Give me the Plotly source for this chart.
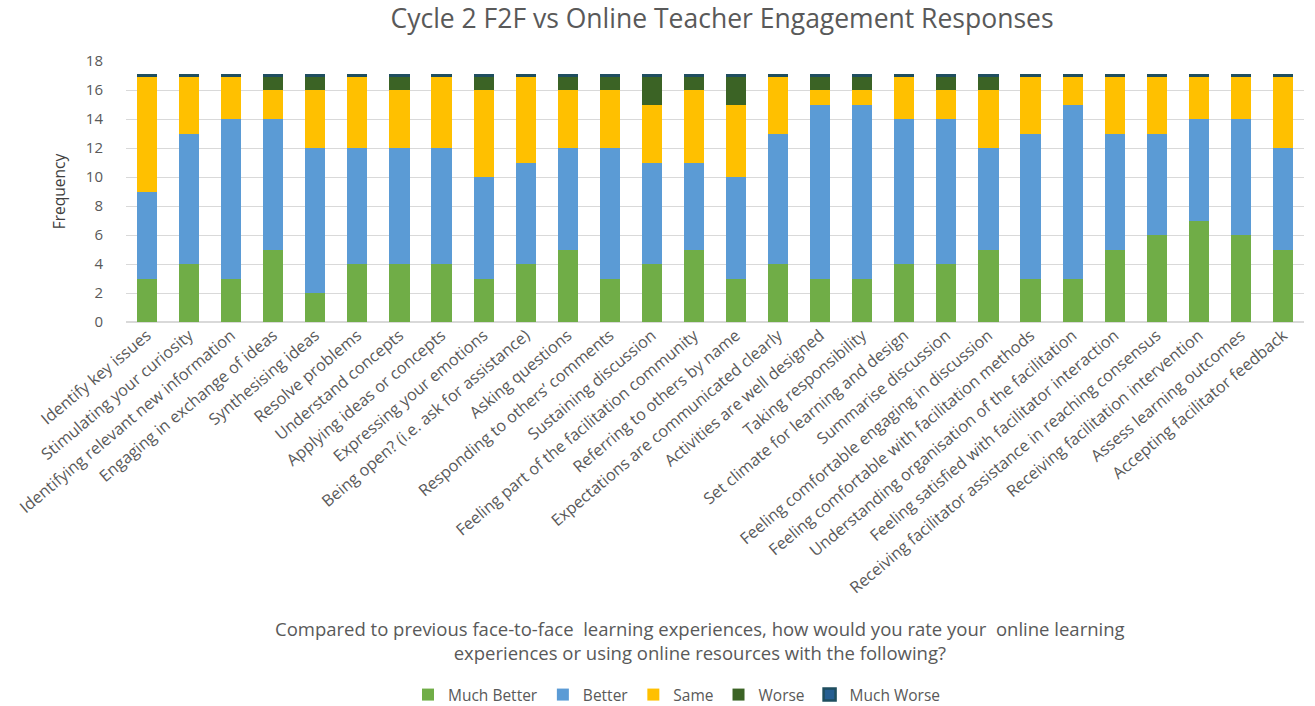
import plotly.graph_objects as go

categories = [
    "Identify key issues",
    "Stimulating your curiosity",
    "Identifying relevant new information",
    "Engaging in exchange of ideas",
    "Synthesising ideas",
    "Resolve problems",
    "Understand concepts",
    "Applying ideas or concepts",
    "Expressing your emotions",
    "Being open? (i.e. ask for assistance)",
    "Asking questions",
    "Responding to others’ comments",
    "Sustaining discussion",
    "Feeling part of the facilitation community",
    "Referring to others by name",
    "Expectations are communicated clearly",
    "Activities are well designed",
    "Taking responsibility",
    "Set climate for learning and design",
    "Summarise discussion",
    "Feeling comfortable engaging in discussion",
    "Feeling comfortable with facilitation methods",
    "Understanding organisation of the facilitation",
    "Feeling satisfied with facilitator interaction",
    "Receiving facilitator assistance in reaching consensus",
    "Receiving facilitation intervention",
    "Assess learning outcomes",
    "Accepting facilitator feedback",
]

much_better = [3, 4, 3, 5, 2, 4, 4, 4, 3, 4, 5, 3, 4, 5, 3, 4, 3, 3, 4, 4, 5, 3, 3, 5, 6, 7, 6, 5]
better      = [6, 9, 11, 9, 10, 8, 8, 8, 7, 7, 7, 9, 7, 6, 7, 9, 12, 12, 10, 10, 7, 10, 12, 8, 7, 7, 8, 7]
same        = [8, 4, 3, 2, 4, 5, 4, 5, 6, 6, 4, 4, 4, 5, 5, 4, 1, 1, 3, 2, 4, 4, 2, 4, 4, 3, 3, 5]
worse       = [0, 0, 0, 1, 1, 0, 1, 0, 1, 0, 1, 1, 2, 1, 2, 0, 1, 1, 0, 1, 1, 0, 0, 0, 0, 0, 0, 0]
much_worse  = [0] * 28

y_ticks = list(range(0, 19, 2))

series = [
    ("Much Better", much_better, "#70AD47"),
    ("Better", better, "#5B9BD5"),
    ("Same", same, "#FFC000"),
    ("Worse", worse, "#3B6325"),
    ("Much Worse", much_worse, "#255E91"),
]

FONT = "Open Sans"
GREY = "#595959"

fig = go.Figure()
for name, vals, color in series:
    line = dict(width=0)
    if name == "Much Worse":
        # zero-height top segment: its outline shows as a thin cap on each stack
        line = dict(width=2.5, color="#1F4E5F")
    fig.add_trace(go.Bar(
        name=name, x=categories, y=vals,
        marker=dict(color=color, line=line),
    ))

W, H = 1315, 706
L, R, T, B = 126, 11, 61, 384
plot_w = W - L - R
plot_h = H - T - B

fig.update_layout(
    width=W, height=H,
    barmode="stack",
    bargap=0.52,
    plot_bgcolor="white",
    paper_bgcolor="white",
    margin=dict(l=L, r=R, t=T, b=B, autoexpand=False),
    font=dict(family=FONT, color=GREY),
    title=dict(
        text="Cycle 2 F2F vs Online Teacher Engagement Responses",
        x=722 / W, xref="container", xanchor="center",
        y=1 - 19 / H, yref="container", yanchor="middle",
        font=dict(size=26.5, color=GREY, family=FONT),
    ),
    legend=dict(
        orientation="h",
        x=677 / W, xref="container", xanchor="center",
        y=(H - 695) / H, yref="container", yanchor="middle",
        font=dict(size=15.5, color=GREY),
        traceorder="normal",
        itemwidth=30,
    ),
    showlegend=True,
)

fig.update_xaxes(
    tickangle=-40,
    tickfont=dict(size=16.2, color=GREY, family=FONT),
    showgrid=False,
    showline=False,
    automargin=False,
)
fig.update_yaxes(
    range=[0, 18],
    tickvals=y_ticks,
    tickfont=dict(size=15, color=GREY, family=FONT),
    showgrid=True,
    gridcolor="#D9D9D9",
    gridwidth=1,
    zeroline=True,
    zerolinecolor="#D9D9D9",
    ticklabelstandoff=22,
    title=dict(text="Frequency", font=dict(size=15.5, color="#404040"), standoff=16),
    automargin=False,
)

# two-line category-axis caption beneath the rotated labels
fig.add_annotation(
    text=("Compared to previous face-to-face  learning experiences, how would you rate your  online learning"
          "<br>experiences or using online resources with the following?"),
    xref="paper", yref="paper",
    x=(700 - L) / plot_w, y=(H - B - 640) / plot_h,
    xanchor="center", yanchor="middle",
    showarrow=False,
    align="center",
    font=dict(size=18.5, color=GREY, family=FONT),
)

fig.write_html("out.html")
